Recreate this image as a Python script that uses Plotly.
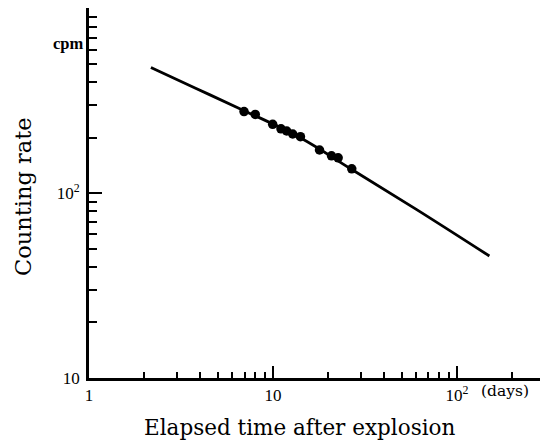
import plotly.graph_objects as go

# measured points (days after explosion, counting rate in cpm)
days = [6.96, 8.01, 9.96, 11.05, 11.87, 12.8, 14.1, 17.9, 20.8, 22.6, 26.8]
rate = [278, 268, 237, 224, 218, 210, 203, 172, 160, 156, 136]

# fitted decay curve
curve_days = [2.17, 3.77, 6.56, 14.0, 27.1, 60.4, 150]
curve_rate = [482, 373, 289, 201, 134, 81.7, 45.8]

x_tick_vals = [1, 10, 100]
x_tick_text = ["1", "10", "10<sup>2</sup>"]
x_minor_vals = [2, 3, 4, 5, 6, 7, 8, 9, 20, 30, 40, 50, 60, 70, 80, 90, 200]
y_tick_vals = [10, 100]
y_tick_text = ["10", "10<sup>2</sup>"]
y_minor_vals = [20, 30, 40, 50, 60, 70, 80, 90, 200, 300, 400, 500, 600, 700, 800, 900]

TITLE_FONT = "DejaVu Serif"
TICK_FONT = "Liberation Serif"

# page body has an 8px margin, so the figure is drawn 8px smaller
W, H = 540, 433
L, R, T, B = 81, 6, 0, 63
PW, PH = W - L - R, H - T - B


def px(xpage):
    return (xpage - 8 - L) / PW


def py(ypage):
    return (H - B - (ypage - 8)) / PH


fig = go.Figure()
fig.add_trace(go.Scatter(x=curve_days, y=curve_rate, mode="lines",
                         line=dict(color="black", width=2.8, shape="spline"),
                         showlegend=False, hoverinfo="skip"))
fig.add_trace(go.Scatter(x=days, y=rate, mode="markers",
                         marker=dict(color="black", size=9.5),
                         showlegend=False))

fig.update_layout(
    width=W, height=H,
    margin=dict(l=L, r=R, t=T, b=B),
    paper_bgcolor="white", plot_bgcolor="white",
    font=dict(family=TICK_FONT, color="black", size=17),
    xaxis=dict(type="log", range=[0, 2.462], showgrid=False, zeroline=False,
               showline=True, linecolor="black", linewidth=2.8,
               tickmode="array", tickvals=x_tick_vals, ticktext=x_tick_text,
               ticks="inside", ticklen=12, tickwidth=1.6, tickcolor="black",
               tickfont=dict(family=TICK_FONT, size=17),
               minor=dict(tickmode="array", tickvals=x_minor_vals, ticks="inside",
                          ticklen=6, tickwidth=1.6, tickcolor="black", showgrid=False)),
    yaxis=dict(type="log", range=[1, 3.005], showgrid=False, zeroline=False,
               showline=True, linecolor="black", linewidth=2.8,
               tickmode="array", tickvals=y_tick_vals, ticktext=y_tick_text,
               ticks="inside", ticklen=13, tickwidth=1.6, tickcolor="black",
               tickfont=dict(family=TICK_FONT, size=17), ticklabelstandoff=3,
               minor=dict(tickmode="array", tickvals=y_minor_vals, ticks="inside",
                          ticklen=8, tickwidth=1.6, tickcolor="black", showgrid=False)),
    annotations=[
        dict(text="Elapsed time after explosion", xref="paper", yref="paper",
             x=px(300), y=py(427), xanchor="center", yanchor="middle",
             showarrow=False, font=dict(family=TITLE_FONT, size=21.5)),
        dict(text="Counting rate", xref="paper", yref="paper",
             x=px(23), y=py(197), xanchor="center", yanchor="middle",
             textangle=-90, showarrow=False, font=dict(family=TITLE_FONT, size=22.5)),
        dict(text="<b>cpm</b>", xref="paper", yref="paper",
             x=px(86), y=py(43), xanchor="right", yanchor="middle",
             showarrow=False, font=dict(family=TICK_FONT, size=16.5)),
        dict(text="(days)", xref="paper", yref="paper",
             x=px(479), y=py(391), xanchor="left", yanchor="middle",
             showarrow=False, font=dict(family=TITLE_FONT, size=15.5)),
    ],
)

fig.write_html("out.html")
